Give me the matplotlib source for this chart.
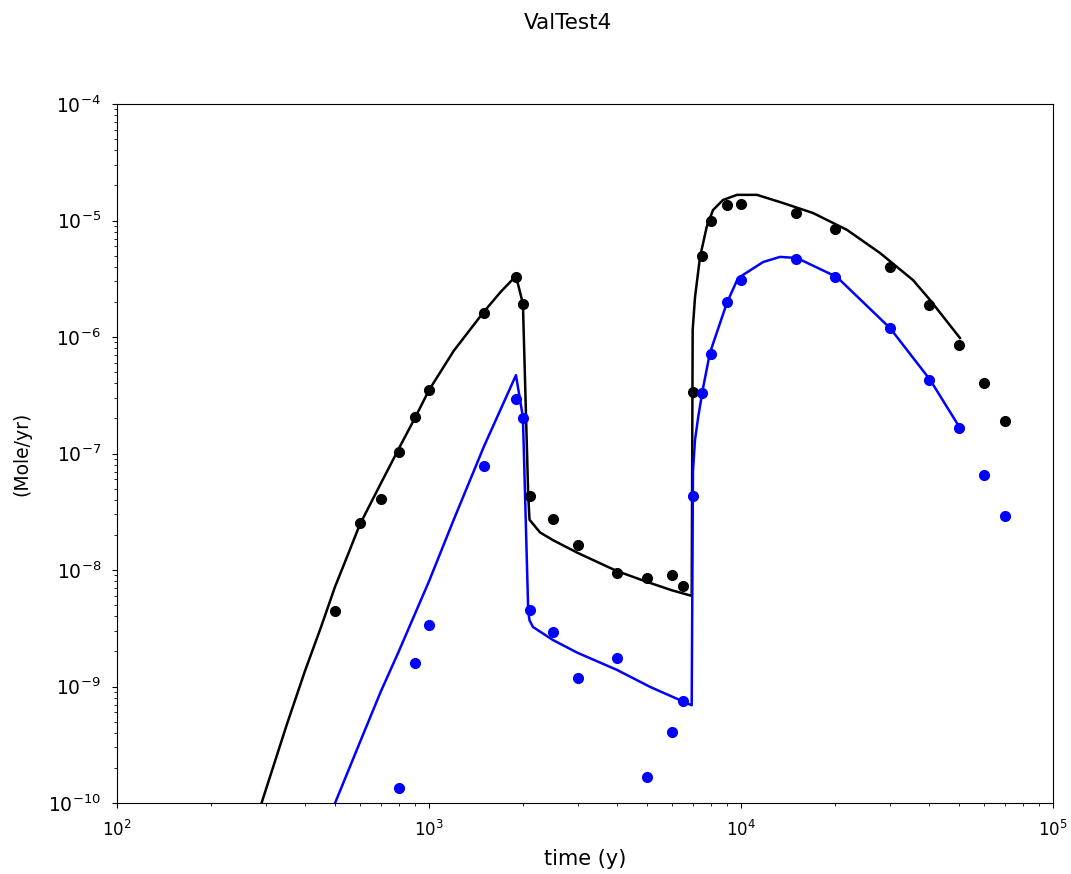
import numpy as np
import matplotlib
matplotlib.use("Agg")
import matplotlib.pyplot as plt

# simulated release (lines)
t_line_k = [285, 350, 400, 450, 500, 550, 600, 700, 800, 900, 1000, 1200, 1500, 1700, 1900,
            2000, 2080, 2100, 2270, 2500, 3000, 4000, 5000, 6000, 6950,
            7000, 7123, 7390, 7763, 8134, 8757, 9710, 11250, 13335, 17010,
            21870, 27900, 35590, 40350, 50330]
v_line_k = [8.5e-11, 4.7e-10, 1.35e-9, 3.2e-9, 7.2e-9, 1.36e-8, 2.45e-8, 5.5e-8, 1.1e-7, 2.0e-7,
            3.5e-7, 7.6e-7, 1.65e-6, 2.45e-6, 3.34e-6,
            1.93e-6, 4.3e-8, 2.7e-8, 2.1e-8, 1.8e-8, 1.4e-8, 9.8e-9, 7.9e-9, 6.7e-9, 6.0e-9,
            1.15e-6, 2.2e-6, 4.86e-6, 8.8e-6, 1.23e-5, 1.5e-5, 1.66e-5, 1.66e-5, 1.44e-5, 1.16e-5,
            8.3e-6, 5.26e-6, 3.08e-6, 2.08e-6, 9.8e-7]

t_line_b = [480, 500, 600, 700, 800, 1000, 1200, 1500, 1900,
            2000, 2080, 2100, 2154, 2500, 3000, 4000, 5120, 6950,
            7015, 7120, 7300, 7550, 7950, 9010, 9780, 11770, 13330, 15100, 20300,
            30060, 40400, 50300]
v_line_b = [7.5e-11, 1.0e-10, 3.3e-10, 9.0e-10, 2.0e-9, 8.0e-9, 2.7e-8, 1.15e-7, 4.7e-7,
            2.05e-7, 4.4e-9, 3.7e-9, 3.24e-9, 2.5e-9, 1.94e-9, 1.39e-9, 9.9e-10, 6.9e-10,
            7.0e-8, 1.3e-7, 2.1e-7, 3.6e-7, 7.3e-7, 1.96e-6, 3.2e-6, 4.4e-6, 4.87e-6, 4.77e-6, 3.27e-6,
            1.19e-6, 4.28e-7, 1.66e-7]

# reference values (dots)
t_pts = [500, 600, 700, 800, 900, 1000, 1500, 1900, 2000, 2100, 2500, 3000, 4000,
         5000, 6000, 6500, 7000, 7500, 8000, 9000, 10000, 15000, 20000, 30000,
         40000, 50000, 60000, 70000]
v_pts_k = [4.45e-9, 2.53e-8, 4.07e-8, 1.03e-7, 2.06e-7, 3.5e-7, 1.61e-6, 3.27e-6, 1.92e-6,
           4.3e-8, 2.74e-8, 1.64e-8, 9.4e-9, 8.5e-9, 9.06e-9, 7.3e-9, 3.37e-7, 4.95e-6,
           9.9e-6, 1.36e-5, 1.39e-5, 1.16e-5, 8.45e-6, 4.0e-6, 1.88e-6, 8.5e-7, 4.0e-7, 1.9e-7]
v_pts_b = [np.nan, np.nan, np.nan, 1.35e-10, 1.59e-9, 3.37e-9, 7.8e-8, 2.94e-7, 2.02e-7,
           4.54e-9, 2.94e-9, 1.18e-9, 1.76e-9, 1.67e-10, 4.07e-10, 7.5e-10, 4.3e-8, 3.3e-7,
           7.1e-7, 2.0e-6, 3.08e-6, 4.68e-6, 3.27e-6, 1.19e-6, 4.3e-7, 1.66e-7, 6.5e-8, 2.9e-8]

fig = plt.figure(figsize=(10.71, 8.74), dpi=100)
ax = fig.add_axes([117 / 1071, 1 - 803 / 874, 936 / 1071, 699 / 874])

ax.plot(t_line_k, v_line_k, color="black", lw=1.8)
ax.plot(t_line_b, v_line_b, color="blue", lw=1.8)
ax.plot(t_pts, v_pts_k, "o", color="black", ms=7, ls="none")
ax.plot(t_pts, v_pts_b, "o", color="blue", ms=7, ls="none")

ax.set_xscale("log")
ax.set_yscale("log")
ax.set_xlim(1e2, 1e5)
ax.set_ylim(1e-10, 1e-4)
ax.set_xlabel("time (y)", fontsize=15)
ax.set_ylabel("(Mole/yr)", fontsize=13.5)
ax.xaxis.set_label_coords(0.5, -0.066)
ax.yaxis.set_label_coords(-0.092, 0.5)
ax.tick_params(axis="x", labelsize=12, pad=9)
ax.tick_params(axis="y", labelsize=13.5, pad=8)

fig.suptitle("ValTest4", x=568 / 1071, y=0.985, fontsize=15.5)

fig.savefig("out.png", dpi=100)
